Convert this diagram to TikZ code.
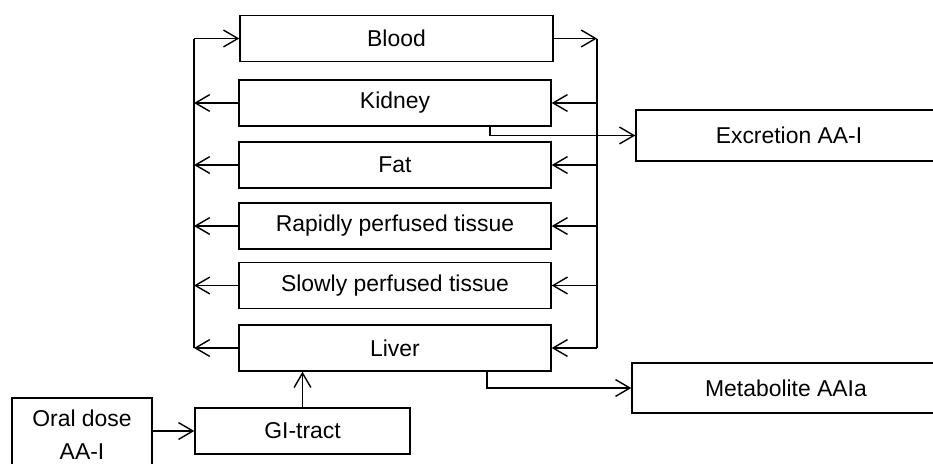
\documentclass[tikz,border=0pt]{standalone}
\usepackage{fontspec}
\setmainfont{Liberation Sans}
\usetikzlibrary{arrows.meta}

\tikzset{
  organ/.style={draw,line width=1pt,minimum width=7.8cm,minimum height=1.15cm,
    font=\fontsize{16.3}{23.5}\selectfont},
  barb/.style={line width=1pt,-{Straight Barb[length=3.6mm,width=4.2mm]}}
}

\begin{document}
\begin{tikzpicture}
\useasboundingbox (0,0) rectangle (23.325,-11.575);
\clip (0,0) rectangle (23.325,-11.575);

% compartments
\node[organ,minimum width=7.825cm] (blood) at (9.9125,-0.9625) {Blood};
\node[organ] (kidney) at (9.875,-2.575) {Kidney};
\node[organ] (fat) at (9.875,-4.125) {Fat};
\node[organ] (rapid) at (9.875,-5.65) {Rapidly perfused tissue};
\node[organ] (slow) at (9.875,-7.1375) {Slowly perfused tissue};
\node[organ] (liver) at (9.875,-8.7) {Liver};
\node[organ,minimum width=5.375cm] (gi) at (7.5625,-10.775) {GI-tract};
\node[organ,minimum width=3.5cm,minimum height=1.85cm,align=center] (oral) at (2.05,-10.875) {Oral dose\\AA-I};
\node[organ,minimum width=7.65cm,minimum height=1.275cm] (excr) at (19.725,-3.3875) {Excretion AA-I};
\node[organ,minimum width=7.7cm,minimum height=1.25cm] (metab) at (19.65,-9.7) {Metabolite AAIa};

% circulation lines
\coordinate (lt) at (4.85,-0.9625); \coordinate (lb) at (4.85,-8.7);
\coordinate (rt) at (14.925,-0.9625); \coordinate (rb) at (14.925,-8.7);
\draw[line width=1pt] (lb) -- (lt); \draw[line width=1pt] (rt) -- (rb);
\draw[barb] (lt) -- (blood.west); \draw[barb] (blood.east) -- (rt);
\foreach \n in {kidney,fat,rapid,slow,liver} {
  \draw[barb] (\n.west) -- (\n.west -| lt);
  \draw[barb] (\n.east -| rt) -- (\n.east);
}

\draw[barb] ([xshift=2.375cm]kidney.south) |- (excr.west);
\draw[barb] ([xshift=2.3cm]liver.south) |- (metab.west);
\draw[barb] (gi.north) -- (gi.north |- liver.south);
\draw[barb] (gi.west -| oral.east) -- (gi.west);

\end{tikzpicture}
\end{document}
